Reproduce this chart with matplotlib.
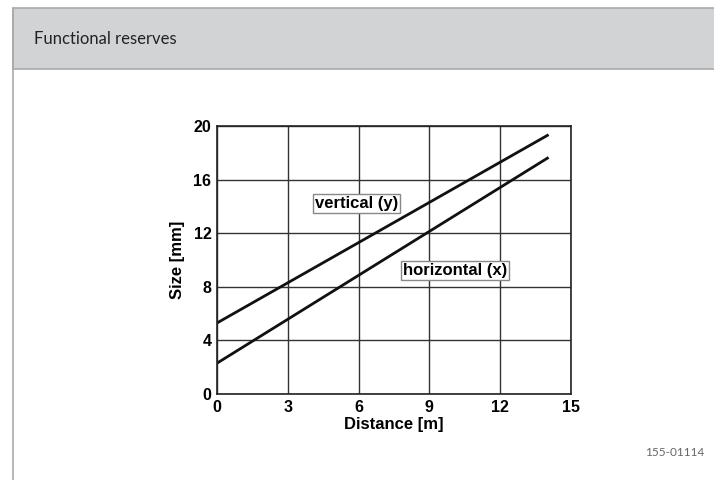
import matplotlib
matplotlib.use("Agg")
import matplotlib.pyplot as plt
from matplotlib.patches import Rectangle
from matplotlib.lines import Line2D

distance = [0, 14]
vertical_y = [5.3, 19.3]
horizontal_x = [2.3, 17.6]
x_ticks = [0, 3, 6, 9, 12, 15]
y_ticks = [0, 4, 8, 12, 16, 20]

fig = plt.figure(figsize=(7.14, 4.8), dpi=100)

# header panel
fig.patches.append(Rectangle((13/714, 1-69/480), 1, 61/480, transform=fig.transFigure,
                             facecolor="#d2d3d5", edgecolor="#a9aaac", linewidth=1.2, zorder=0))
fig.lines.append(Line2D([13/714, 13/714], [0, 1-8/480], transform=fig.transFigure,
                        color="#a9aaac", linewidth=1.2))
fig.text(34/714, 1-39/480, "Functional reserves", fontsize=12, family="Lato",
         color="#222222", va="center", ha="left")
fig.text(704/714, 1-452/480, "155-01114", fontsize=8.5, family="Lato",
         color="#666666", va="center", ha="right")

ax = fig.add_axes([217/714, 1-394/480, 354/714, 268/480])
font = dict(family="Liberation Sans", weight="bold")
ax.plot(distance, vertical_y, color="#111111", lw=2)
ax.plot(distance, horizontal_x, color="#111111", lw=2)
ax.set_xlim(0, 15)
ax.set_ylim(0, 20)
ax.set_xticks(x_ticks)
ax.set_yticks(y_ticks)
ax.set_xticklabels([str(t) for t in x_ticks], fontsize=11.5, **font)
ax.set_yticklabels([str(t) for t in y_ticks], fontsize=11.5, **font)
ax.tick_params(axis="x", length=0, pad=4)
ax.tick_params(axis="y", length=0, pad=4)
ax.grid(True, color="#333333", lw=1)
for s in ax.spines.values():
    s.set_color("#222222")
    s.set_linewidth(1.2)
ax.set_xlabel("Distance [m]", fontsize=12, labelpad=2, **font)
ax.set_ylabel("Size [mm]", fontsize=12, labelpad=6, **font)

bbox = dict(boxstyle="square,pad=0.12", facecolor="white", edgecolor="#888888", lw=1)
ax.text(5.9, 14.25, "vertical (y)", fontsize=12, ha="center", va="center", bbox=bbox, **font)
ax.text(10.1, 9.2, "horizontal (x)", fontsize=12, ha="center", va="center", bbox=bbox, **font)

fig.savefig("out.png", dpi=100)
